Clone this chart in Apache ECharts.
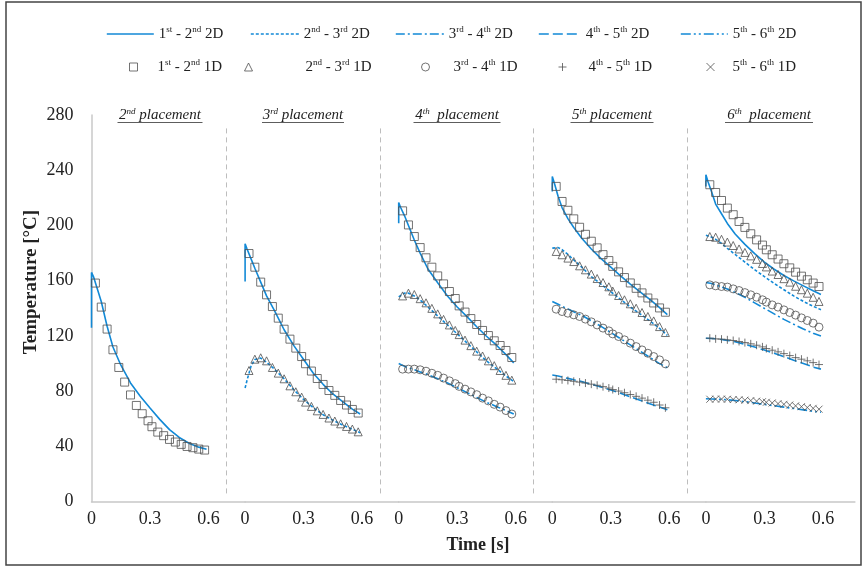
<!DOCTYPE html>
<html><head><meta charset="utf-8">
<script src="https://cdn.jsdelivr.net/npm/echarts@6/dist/echarts.min.js"></script>
<style>html,body{margin:0;padding:0;background:#fff}#c{width:866px;height:569px}</style>
</head><body><div id="c"></div>
<script>
// ---------------- DATA ----------------
const names2D = ['1st - 2nd 2D','2nd - 3rd 2D','3rd - 4th 2D','4th - 5th 2D','5th - 6th 2D'];
const names1D = ['1st - 2nd 1D','2nd - 3rd 1D','3rd - 4th 1D','4th - 5th 1D','5th - 6th 1D'];
const panelTitles = ['2nd placement','3rd placement','4th  placement','5th placement','6th  placement'];
const xTickLabels = ['0','0.3','0.6'];
const yTickLabels = ['0','40','80','120','160','200','240','280'];

// time [s] of the 1D model points and of the 2D model curve
const t1D = [0.02,0.05,0.08,0.11,0.14,0.17,0.20,0.23,0.26,0.29,0.31,0.34,0.37,0.40,0.43,0.46,0.49,0.52,0.55,0.58];
const t2D = [0,0,0.01,0.03,0.05,0.08,0.11,0.15,0.2,0.25,0.3,0.35,0.4,0.45,0.5,0.55,0.59];

// 2nd placement
const p2_12_2D = [126,166,163,154,145,127,112,99,86,76.3,67.8,59.6,52.2,46.5,42.3,39.5,38];
const p2_12_1D = [158.3,140.9,125,110,97.2,86.6,77.3,69.7,63.7,58.6,54.3,50.4,47.8,45.1,43.2,41.5,40,39.1,38.1,37.4];
// 3rd placement
const p3_12_2D = [159.4,186.7,183,176,169,159,149,138.5,124.5,113,103,93,85,78,72.5,67,63.5];
const p3_23_2D = [82.3,82.3,88,98,103,104,101,96,89,81,74,68,63,59,55.5,52.5,50];
const p3_12_1D = [179.7,169.8,159,149.8,141.3,132.9,124.9,117.7,111.2,105.1,99.9,94.6,89.2,84.9,80.5,77,73.3,70,66.8,64.2];
const p3_23_1D = [95,103.2,104.2,102,97.2,93.1,89,83.9,79.6,75.7,72.1,69,65.8,63.2,60.6,58.4,56.4,54.5,52.6,50.6];
// 4th placement
const p4_12_2D = [201.6,216.6,213,207,200,189.5,180,168.5,158.5,149,141,134,126.7,119.8,113.5,106.5,100.5];
const p4_23_2D = [148.3,148.3,149.5,151,151,149,146,141,134.5,128,121.5,115,108.5,102,96.5,91,87];
const p4_34_2D = [100,100,99,98,97,95.5,94,92,89,86,82.5,79,75.5,72,69,66,63.5];
const p4_12_1D = [210.6,200.4,192,184,176.6,169.8,163.5,157.7,152.2,147.1,141.8,137.3,132.6,128.3,124,120.3,116.5,113.1,109.5,104.4];
const p4_23_1D = [149,151,150,147,144,140,136,132,128,124,121,117,113,109,105.5,102,98.5,95,91.5,88];
const p4_34_1D = [96,96,96,95.5,94.5,93,91.5,89.5,87.5,85.5,83.5,81.5,79.5,77.5,75,73,70.5,68.5,66,63.5];
// 5th placement
const p5_12_2D = [224.6,235.5,231,221,213,205,198.5,191,183,176,169.8,163.5,157.5,152,146.5,140.5,135.5];
const p5_23_2D = [183.6,183.6,184,184,182.5,179,175,170,163,157.5,152,146.5,141,136,131,125.5,120.5];
const p5_34_2D = [145,145,144.5,143,141.5,139.5,137.5,135,131,127,122.5,118,113.5,109,104.5,100,97];
const p5_45_2D = [91.8,91.8,91.5,91,90.3,89.3,88.3,87,85,83,80.8,78.5,76,73.5,71,68.5,66.5];
const p5_12_1D = [228.3,217.4,211,204.8,198.7,193.6,188.6,183.8,178.9,174.6,170.4,166.4,162.3,158.4,154.5,151.2,147.5,143.9,140.3,137.2];
const p5_23_1D = [181.2,178.8,176.4,173.9,170.8,167.9,164.8,161.6,158.7,155.6,152.5,149.3,146.2,143.3,140.1,137,134.1,130.9,126.8,122.5];
const p5_34_1D = [139.4,137.7,136.5,135.3,134.1,132.2,130.2,128,125.7,123.7,121.5,119.6,117.2,114.8,112.3,109.9,107.5,105.1,102.7,99.8];
const p5_45_1D = [88.7,88.3,87.8,87.2,86.6,85.9,85.1,84.3,83.3,82.3,81.2,80.1,78.9,77.6,76.3,75,73.5,72,70,68];
// 6th placement
const p6_12_2D = [228.3,236.7,232,224,215.5,208.5,201.5,193.8,186.3,179.6,173.5,168.3,163.8,159.9,156.3,152.7,150];
const p6_23_2D = [193,193,192.5,191.5,190,187,183.5,179,173.5,168,163,158,153.5,149,145,141.5,139];
const p6_34_2D = [158.7,158.7,158.5,158,157,155.5,154,151.5,148,144,140,136,132,128.5,125,122,120];
const p6_45_2D = [118.4,118.4,118.4,118.2,118,117.5,116.8,115.8,114,112,109.8,107.5,105,102.5,100,97.5,96];
const p6_56_2D = [74.5,74.5,74.5,74.4,74.3,74.1,73.8,73.3,72.5,71.5,70.5,69.5,68.5,67.5,66.5,65.5,64.8];
const p6_12_1D = [229.5,223.9,218.1,212.6,207.8,202.9,198.6,194,189.6,185.8,182.4,178.8,175.7,172.3,169.3,166.2,163.3,160.7,158.3,155.8];
const p6_23_1D = [192,191.5,190,188,185.5,183,180.5,178,175.5,172.5,170,167,164.5,161.5,159,156,153.5,151,148,145];
const p6_34_1D = [157,156.3,155.8,155.4,154.1,152.9,151.4,149.8,148.1,146.2,144.5,142.5,140.9,138.9,137,135.1,133.1,131.2,129.3,126.4];
const p6_45_1D = [118.4,117.9,117.7,117.2,116.7,116,115.2,114.3,113.3,112.1,110.9,109.7,108.5,107.2,105.8,104.3,103.2,102,100.7,99.3];
const p6_56_1D = [74.2,74.3,74.3,74.2,74,73.8,73.5,73.2,72.8,72.4,72,71.5,71,70.5,70,69.4,68.8,68.2,67.6,67];

const panels = [
  {lines:[p2_12_2D], dots:[p2_12_1D]},
  {lines:[p3_12_2D,p3_23_2D], dots:[p3_12_1D,p3_23_1D]},
  {lines:[p4_12_2D,p4_23_2D,p4_34_2D], dots:[p4_12_1D,p4_23_1D,p4_34_1D]},
  {lines:[p5_12_2D,p5_23_2D,p5_34_2D,p5_45_2D], dots:[p5_12_1D,p5_23_1D,p5_34_1D,p5_45_1D]},
  {lines:[p6_12_2D,p6_23_2D,p6_34_2D,p6_45_2D,p6_56_2D], dots:[p6_12_1D,p6_23_1D,p6_34_1D,p6_45_1D,p6_56_1D]}
];

// ---------------- STYLE ----------------
const FONT = '"Liberation Serif","Times New Roman",serif';
const BLUE = '#1289d6';
const MARK = '#505050';
const dashes = ['solid',[3,2],[9,3,2,3],[10,4],[10,3,2,3,2,3]];
const symbols = ['rect','triangle','circle','path://M0,5L10,5M5,0L5,10','path://M0,0L10,10M10,0L0,10'];
const symSizes = [8,8,8,8,7];

const G_LEFT = 91.5, G_STEP = 153.6, G_TOP = 115, G_H = 386.7;
const X_MAX = G_STEP / 195;
const SEP_T = 0.692;

function supText(s){ return s.replace(/(\d)(st|nd|rd|th)/g, '$1{s|$2}'); }

const grids = [], xAxes = [], yAxes = [], series = [];
panels.forEach((p, i) => {
  grids.push({left: G_LEFT + G_STEP*i, top: G_TOP, width: i === panels.length-1 ? 149 : G_STEP, height: G_H, containLabel:false});
  const xmax = i === panels.length-1 ? 149/195 : X_MAX;
  xAxes.push({
    type:'value', gridIndex:i, min:0, max:xmax, interval:0.3,
    axisLine:{show:true, onZero:false, lineStyle:{color:'#c8c8c8', width:1.5}},
    axisTick:{show:false}, splitLine:{show:false},
    axisLabel:{fontSize:18, color:'#222', fontFamily:FONT, margin:9, showMaxLabel:false,
      formatter: v => { const k = Math.round(v/0.3); return Math.abs(v - k*0.3) < 1e-6 ? xTickLabels[k] : ''; }}
  });
  yAxes.push({
    type:'value', gridIndex:i, min:0, max:280, interval:40, show: i===0,
    axisLine:{show:true, lineStyle:{color:'#c8c8c8', width:1.5}},
    axisTick:{show:false}, splitLine:{show:false},
    axisLabel:{fontSize:18, color:'#222', fontFamily:FONT, margin:18,
      formatter: v => yTickLabels[Math.round(v/40)]}
  });
  p.lines.forEach((arr, k) => {
    const s = {
      type:'line', name:names2D[k], xAxisIndex:i, yAxisIndex:i,
      data: t2D.map((t, j) => [t, arr[j]]),
      symbol:'none', showSymbol:false, z:2,
      lineStyle:{color:BLUE, width:1.6, type:dashes[k]}, itemStyle:{color:BLUE}
    };
    if (k === 0 && i < panels.length - 1) {
      s.markLine = {silent:true, symbol:['none','none'], label:{show:false}, animation:false,
        lineStyle:{color:'#bdbdbd', type:[5,4], width:1},
        data:[[{coord:[SEP_T, 6]},{coord:[SEP_T, 272]}]]};
    }
    series.push(s);
  });
  p.dots.forEach((arr, k) => {
    series.push({
      type:'scatter', name:names1D[k], xAxisIndex:i, yAxisIndex:i,
      data: t1D.map((t, j) => [t, arr[j]]),
      symbol:symbols[k], symbolSize:symSizes[k], z:3,
      itemStyle:{color:'rgba(0,0,0,0)', borderColor:MARK, borderWidth:1}
    });
  });
});

const richLegend = {
  s:{fontSize:9, fontFamily:FONT, color:'#222', verticalAlign:'top', lineHeight:9}
};
const legends = [];
const row1Left = [106,250,395,538,680], row1W = [47,48,48,42,47];
names2D.forEach((n, k) => legends.push({
  data:[n], left:row1Left[k], top:25, padding:0, itemWidth:row1W[k], itemHeight:14, itemGap:0,
  itemStyle:{opacity:0, color:'rgba(0,0,0,0)', borderWidth:0},
  lineStyle:{color:BLUE, width:1.6, type:dashes[k]},
  textStyle:{fontSize:15, fontFamily:FONT, color:'#222', lineHeight:18, rich:richLegend},
  formatter: supText
}));
const row2C = [133,248,425,562,710], row2T = [157,305,453,588,732];
names1D.forEach((n, k) => legends.push({
  data:[n], left:row2C[k]-4, top:58, padding:0, itemWidth:8, itemHeight:8, itemGap:0,
  itemStyle:{color:'rgba(0,0,0,0)', borderColor:MARK, borderWidth:1},
  textStyle:{fontSize:15, fontFamily:FONT, color:'#222', lineHeight:18, rich:richLegend,
    padding:[0,0,0,row2T[k]-(row2C[k]+4)-5]},
  formatter: supText
}));

// panel titles (italic, underlined, with superscripts)
const titleX = [160,303,457,612,769], titleW = [85,82,87,83,88];
const graphic = [];
panelTitles.forEach((t, i) => {
  graphic.push({type:'text', x:titleX[i], y:115, silent:true, style:{
    text: supText(t), align:'center', verticalAlign:'middle',
    fontSize:15, fontStyle:'italic', fontFamily:FONT, fill:'#222',
    rich:{s:{fontSize:9, fontStyle:'italic', fontFamily:FONT, fill:'#222', verticalAlign:'top', lineHeight:9}}
  }});
  graphic.push({type:'line', silent:true, shape:{x1:titleX[i]-titleW[i]/2, y1:122.5, x2:titleX[i]+titleW[i]/2, y2:122.5},
    style:{stroke:'#333', lineWidth:0.8}});
});
graphic.push({type:'text', x:31, y:282, rotation:Math.PI/2, silent:true, style:{
  text:'Temperature [°C]', align:'center', verticalAlign:'middle',
  fontSize:19, fontWeight:'bold', fontFamily:FONT, fill:'#222'}});
graphic.push({type:'text', x:478, y:545, silent:true, style:{
  text:'Time [s]', align:'center', verticalAlign:'middle',
  fontSize:18, fontWeight:'bold', fontFamily:FONT, fill:'#222'}});
graphic.push({type:'rect', silent:true, shape:{x:6, y:2, width:855, height:563},
  style:{fill:'none', stroke:'#444', lineWidth:1.5}});

const chart = echarts.init(document.getElementById('c'), null, {renderer:'canvas'});
chart.setOption({
  animation:false,
  backgroundColor:'#fff',
  textStyle:{fontFamily:FONT},
  grid:grids, xAxis:xAxes, yAxis:yAxes,
  legend:legends,
  graphic:graphic,
  series:series
});
</script></body></html>
